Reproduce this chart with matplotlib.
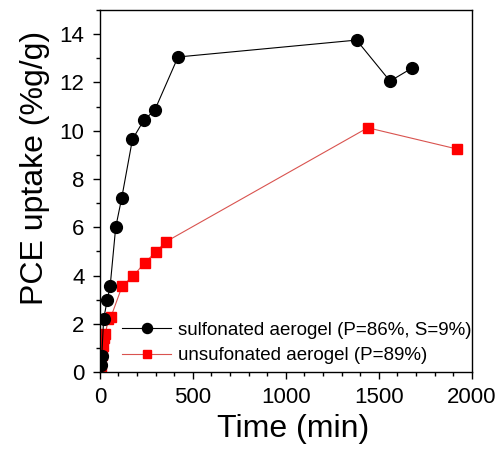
import numpy as np
import matplotlib.pyplot as plt
from matplotlib.ticker import MultipleLocator

plt.rcParams['font.family'] = ['Liberation Sans', 'DejaVu Sans']

# sulfonated aerogel (P=86%, S=9%)
t_sulf = [5, 10, 20, 40, 55, 85, 117, 175, 236, 295, 420, 1380, 1560, 1680]
v_sulf = [0.3, 0.65, 2.2, 3.0, 3.55, 6.0, 7.2, 9.64, 10.43, 10.85, 13.05, 13.75, 12.05, 12.6]

# unsufonated aerogel (P=89%)
t_unsulf = [5, 10, 15, 20, 30, 45, 60, 120, 180, 240, 300, 355, 1440, 1920]
v_unsulf = [0.2, 0.7, 1.1, 1.4, 1.6, 2.2, 2.3, 3.57, 3.99, 4.52, 4.97, 5.4, 10.12, 9.24]

fig = plt.figure(figsize=(5.02, 4.5), dpi=100)
ax = fig.add_axes([0.199, 0.173, 0.741, 0.805])

ax.plot(t_sulf, v_sulf, '-o', color='black', lw=0.8, ms=8.5,
        mfc='black', mec='black', label='sulfonated aerogel (P=86%, S=9%)', zorder=3)
ax.plot(t_unsulf, v_unsulf, '-s', color='#d9534f', lw=0.8, ms=7.5,
        mfc='red', mec='red', label='unsufonated aerogel (P=89%)', zorder=2)

ax.set_xlim(0, 2000)
ax.set_ylim(0, 15)
ax.xaxis.set_major_locator(MultipleLocator(500))
ax.xaxis.set_minor_locator(MultipleLocator(100))
ax.yaxis.set_major_locator(MultipleLocator(2))
ax.yaxis.set_minor_locator(MultipleLocator(1))
ax.tick_params(which='both', direction='out', labelsize=16, width=1)
ax.tick_params(which='major', length=5, pad=6)
ax.tick_params(which='minor', length=3)
for s in ax.spines.values():
    s.set_linewidth(1)

ax.set_xlabel('Time (min)', fontsize=23, labelpad=4, x=0.52)
ax.set_ylabel('PCE uptake (%g/g)', fontsize=23, labelpad=7, y=0.565)

ax.legend(loc='lower left', bbox_to_anchor=(0.015, -0.025), frameon=False,
          fontsize=13.5, handlelength=2.6, handletextpad=0.35, labelspacing=0.45,
          markerscale=0.85)

fig.savefig('out.png', dpi=100)
